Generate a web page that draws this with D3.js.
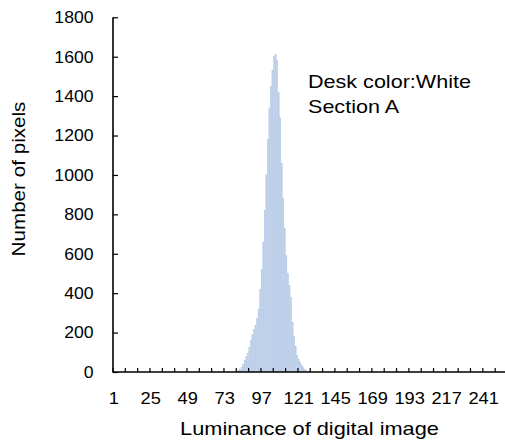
<!DOCTYPE html>
<html><head><meta charset="utf-8">
<script src="https://cdn.jsdelivr.net/npm/d3@7"></script>
<style>body{margin:0;background:#fff}svg{display:block}text{font-family:"Liberation Sans",Arial,sans-serif;fill:#000}</style>
</head><body><svg id="c" width="505" height="443"></svg>
<script>
// Luminance categories 1..256 (Excel category labels)
const categories = d3.range(1, 257);
// Histogram counts (non-zero part), starting at category 81
const countStart = 81;
const counts = [3, 8, 15, 25, 40, 60, 78, 95, 125, 160, 190, 215, 235, 270, 320, 420, 520, 660, 820, 1000,
  1180, 1340, 1450, 1530, 1600, 1610, 1580, 1420, 1290, 1060, 880, 730, 590, 500, 440, 380, 250, 180, 130, 85,
  65, 50, 35, 22, 12, 6, 3];
const xTickLabels = [1, 25, 49, 73, 97, 121, 145, 169, 193, 217, 241];
const yTicks = [0, 200, 400, 600, 800, 1000, 1200, 1400, 1600, 1800];
const noteLines = ["Desk color:White", "Section A"];

const bars = counts.map((v, i) => ({cat: countStart + i, v}));
const svg = d3.select("#c");
const L = 113, R = 507.5, T = 17.3, B = 372;
const x = d3.scaleBand().domain(categories).range([L, R]).paddingInner(0.2).paddingOuter(0.1);
const xc = d3.scaleLinear().domain([0.5, 256.5]).range([L, R]);
const y = d3.scaleLinear().domain([0, 1800]).range([B, T]);

function stext(g, tx, ty, str, size, sx, anchor, rot) {
  return g.append("text")
    .attr("transform", `translate(${tx},${ty})` + (rot ? ` rotate(${rot})` : "") + ` scale(${sx},1)`)
    .attr("font-size", size).attr("text-anchor", anchor || "start").text(str);
}

svg.append("g").selectAll("rect").data(bars).join("rect")
  .attr("x", d => x(d.cat)).attr("width", x.bandwidth())
  .attr("y", d => y(d.v)).attr("height", d => B - y(d.v))
  .attr("fill", "#bdd0ea").attr("stroke", "#a7bfe0").attr("stroke-width", 0.3);

// Y axis (inside ticks)
const ya = svg.append("g").attr("transform", `translate(${L},0)`)
  .call(d3.axisLeft(y).tickValues(yTicks).tickSize(-5).tickFormat(() => ""));
ya.select(".domain").attr("stroke", "#000").attr("stroke-width", 1.6).attr("d", `M0,${T}V${B}`);
ya.selectAll(".tick line").attr("stroke", "#000").attr("stroke-width", 1.2);
const yl = svg.append("g");
yTicks.forEach(v => stext(yl, 93.5, y(v) + 5.8, d3.format("d")(v), 16.3, 1.08, "end"));

// X axis: tick marks every 8 categories at category boundaries
const tickPos = d3.range(0, 257, 8).map(k => xc(k + 0.5));
const xa = svg.append("g");
xa.append("line").attr("x1", L - 0.8).attr("x2", R).attr("y1", B).attr("y2", B).attr("stroke", "#000").attr("stroke-width", 1.6);
xa.selectAll("line.t").data(tickPos).join("line").attr("class", "t")
  .attr("x1", d => d).attr("x2", d => d).attr("y1", B).attr("y2", B - 4).attr("stroke", "#000").attr("stroke-width", 1.2);
xTickLabels.forEach(v => stext(xa, xc(v), 404, String(v), 16.3, 1.12, "middle"));

// Axis titles
stext(svg, 309.5, 435, "Luminance of digital image", 18.6, 1.17, "middle");
stext(svg, 25, 179, "Number of pixels", 17.8, 1.16, "middle", -90);

// Annotation
const ng = svg.append("g");
noteLines.forEach((t, i) => stext(ng, 308, 88.3 + i * 25, t, 18.6, 1.16, "start"));
</script></body></html>
